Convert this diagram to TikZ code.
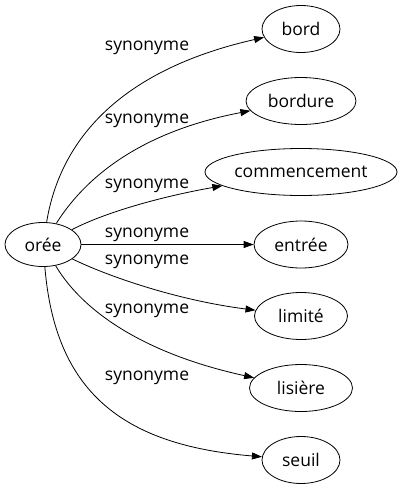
\documentclass[tikz,border=0pt]{standalone}
\usepackage{fontspec}
\setmainfont{Open Sans}
\usetikzlibrary{shapes.geometric,arrows.meta}
\begin{document}
\begin{tikzpicture}[x=1pt,y=-1pt,
  word/.style={draw,ellipse,line width=0.8pt,inner sep=0pt,minimum height=47pt,font=\fontsize{17.5}{20}\selectfont},
  rel/.style={inner sep=0pt,font=\fontsize{17.5}{20}\selectfont},
  syn/.style={line width=0.8pt,-{Triangle[length=10pt,width=7pt]}}]
\useasboundingbox (0,0) rectangle (403,491);
\node[word,minimum width=76pt,minimum height=44pt] (oree) at (43,244.5) {orée};
\foreach \n/\w/\y/\d in {
bord/bord/29/78,
bordure/bordure/101/110,
commencement/commencement/172/192,
entree/entrée/244.5/94,
limite/limité/316/93,
lisiere/lisière/388/103,
seuil/seuil/460/78}
 \node[word,minimum width=\d pt] (\n) at (301,\y) {\w};
\foreach \n/\ax/\ay/\bx/\by in {
bord/60/140/120/70,
bordure/90/170/150/130,
commencement/110/210/170/195,
limite/105/275/175/300,
lisiere/85/315/150/355,
seuil/55/390/120/445}
 \draw[syn] (oree) .. controls (\ax,\ay) and (\bx,\by) .. (\n);
\draw[syn] (oree) -- (entree);
\foreach \n/\y in {bord/48,bordure/121,commencement/186,entree/235,limite/262,lisiere/311,seuil/378}
 \node[rel] (syn-\n) at (147,\y) {synonyme};
\end{tikzpicture}
\end{document}
